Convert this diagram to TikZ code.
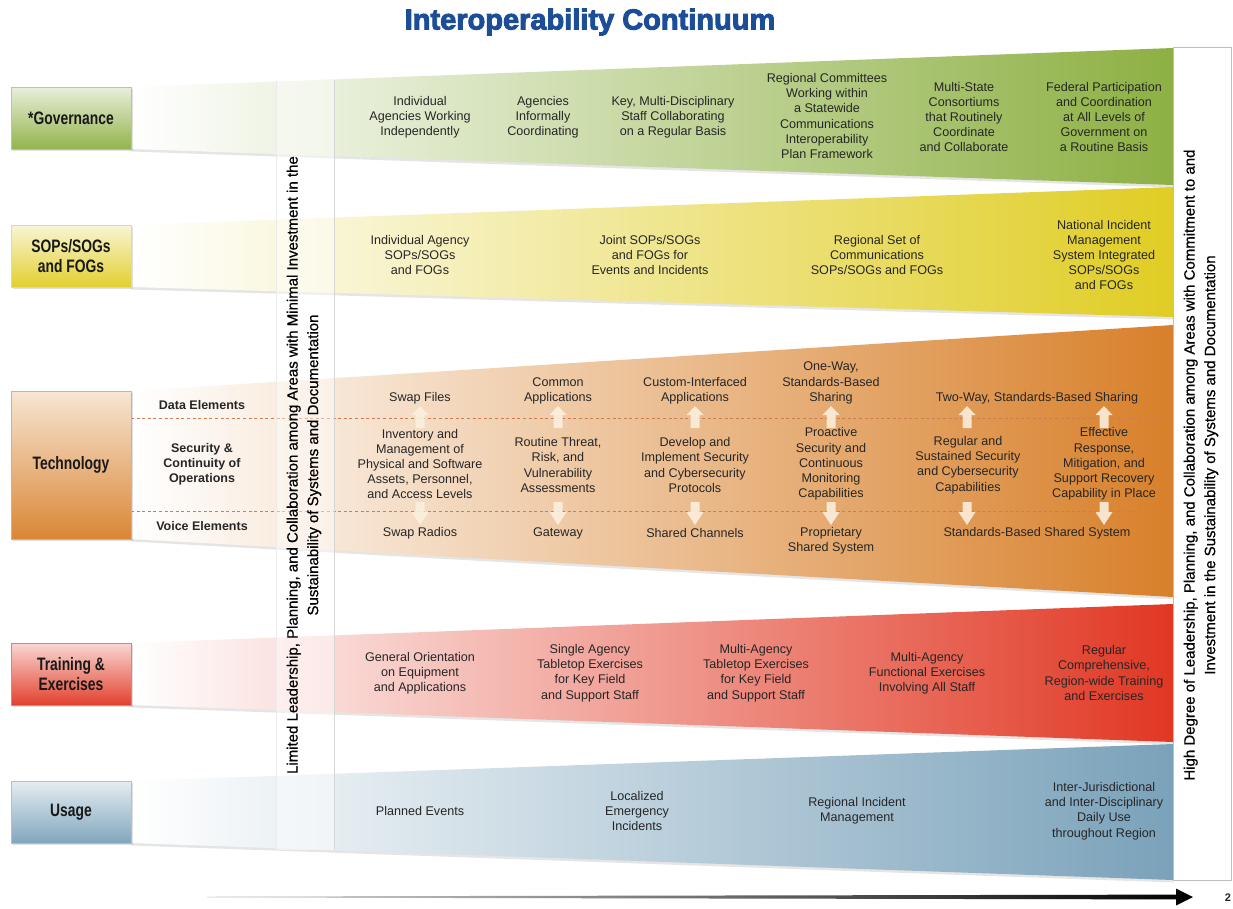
\documentclass[tikz,border=0pt]{standalone}
\usepackage{fontspec}
\setmainfont{Liberation Sans}
\newfontfamily\titlefont{Liberation Sans Bold}[FakeBold=3.2]
\newfontfamily\labelfont{Liberation Sans Bold}[FakeStretch=0.77]
\newfontfamily\sidefont{Liberation Sans}[FakeBold=0.6]
\usetikzlibrary{shadows}

\definecolor{govC}{RGB}{141,176,67}
\definecolor{sopC}{RGB}{224,205,36}
\definecolor{techC}{RGB}{216,128,42}
\definecolor{trainC}{RGB}{225,55,35}
\definecolor{trainM}{RGB}{240,152,112}
\definecolor{useC}{RGB}{122,162,186}
\definecolor{txt}{RGB}{38,38,38}
\definecolor{titleblue}{RGB}{28,78,152}
\definecolor{dashC}{RGB}{205,125,80}
\definecolor{arrowC}{RGB}{253,240,224}

\tikzset{
  band/.style={drop shadow={opacity=0.2,shadow xshift=0.5pt,shadow yshift=-2.5pt}},
  lblbox/.style={draw=#1!65, line width=0.8pt, top color=#1!20, bottom color=#1!95,
    minimum width=120pt, inner sep=0pt, align=center, text=black!90,
    font=\labelfont\fontsize{18}{20}\selectfont,
    drop shadow={opacity=0.25,shadow xshift=1.5pt,shadow yshift=-1.5pt}},
  bt/.style={font=\fontsize{12.6}{15.2}\selectfont, align=center, text=txt, inner sep=0pt},
  sublbl/.style={font=\bfseries\fontsize{12.5}{15.2}\selectfont, align=center, text=txt, inner sep=0pt},
  sidetext/.style={rotate=90, font=\sidefont\fontsize{15}{20.5}\selectfont, align=center, text=black, inner sep=0pt},
  dashline/.style={draw=dashC, line width=0.9pt, dash pattern=on 3pt off 2.6pt},
  arrowfill/.style={fill=arrowC, fill opacity=0.88},
  uparrow/.pic={\fill[arrowfill] (-4.5,22) -- (-4.5,9) -- (-8.5,9) -- (0,0) -- (8.5,9) -- (4.5,9) -- (4.5,22) -- cycle;},
  downarrow/.pic={\fill[arrowfill] (-4.5,-23) -- (-4.5,-13) -- (-8.5,-13) -- (0,0) -- (8.5,-13) -- (4.5,-13) -- (4.5,-23) -- cycle;}
}

\begin{document}
\begin{tikzpicture}[x=1pt,y=-1pt]
% canvas
\fill[white] (0,0) rectangle (1233,908);
\useasboundingbox (0,0) rectangle (1233,908);

% widening bands
\shade[band, left color=white, right color=govC]
  (131,87) -- (1173,48) -- (1173,185) -- (131,149) -- cycle;
\shade[band, left color=white, right color=sopC]
  (131,225) -- (1173,187) -- (1173,317) -- (131,287) -- cycle;
\shade[band, left color=white, right color=techC]
  (131,391) -- (1173,325) -- (1173,597) -- (131,539) -- cycle;
\shade[band, left color=white, middle color=trainM, right color=trainC]
  (131,643) -- (1173,604) -- (1173,742) -- (131,705) -- cycle;
\shade[band, left color=white, right color=useC]
  (131,781) -- (1173,744) -- (1173,880) -- (131,843) -- cycle;

% technology sub-rows
\coordinate (dA1) at (131,418);  \coordinate (dA2) at (1173,418);
\coordinate (dB1) at (131,511);  \coordinate (dB2) at (1173,511);
\draw[dashline] (dA1) -- (dA2);
\draw[dashline] (dB1) -- (dB2);

% up / down block arrows
\foreach \x in {420,558,695,831,967,1104} {
  \pic at (\x,406) {uparrow};
  \pic at (\x,525) {downarrow};
}

% pale vertical strip
\fill[white, fill opacity=0.45] (276,80) rectangle (334,850);
\draw[black!8, line width=0.6pt] (276,80) -- (276,850);
\draw[black!16, line width=0.8pt] (334.5,80) -- (334.5,850);

% right-hand panel
\draw[black!25, line width=0.6pt, fill=white,
  drop shadow={opacity=0.2,shadow xshift=1pt,shadow yshift=-1pt}] (1173,47) rectangle (1231,880);

% row headers
\node[lblbox=govC, minimum height=62pt] (gov) at (71,118) {*Governance};
\node[lblbox=sopC, minimum height=62pt] (sop) at (71,256) {SOPs/SOGs\\and FOGs};
\node[lblbox=techC, minimum height=148pt] (tech) at (71,465) {Technology};
\node[lblbox=trainC, minimum height=62pt] (train) at (71,674) {Training \&\\Exercises};
\node[lblbox=useC, minimum height=62pt] (use) at (71,812) {Usage};

% technology sub-row labels
\node[sublbl] (dataL) at (202,405) {Data Elements};
\node[sublbl] (secL) at (202,464) {Security \&\\Continuity of\\Operations};
\node[sublbl] (voiceL) at (202,526) {Voice Elements};

% governance
\node[bt] (g1) at (420,117) {Individual\\Agencies Working\\Independently};
\node[bt] (g2) at (543,117) {Agencies\\Informally\\Coordinating};
\node[bt] (g3) at (673,117) {Key, Multi-Disciplinary\\Staff Collaborating\\on a Regular Basis};
\node[bt] (g4) at (827,116) {Regional Committees\\Working within\\a Statewide\\Communications\\Interoperability\\Plan Framework};
\node[bt] (g5) at (964,117) {Multi-State\\Consortiums\\that Routinely\\Coordinate\\and Collaborate};
\node[bt] (g6) at (1104,117) {Federal Participation\\and Coordination\\at All Levels of\\Government on\\a Routine Basis};

% SOPs/SOGs
\node[bt] (s1) at (420,255) {Individual Agency\\SOPs/SOGs\\and FOGs};
\node[bt] (s2) at (650,255) {Joint SOPs/SOGs\\and FOGs for\\Events and Incidents};
\node[bt] (s3) at (877,255) {Regional Set of\\Communications\\SOPs/SOGs and FOGs};
\node[bt] (s4) at (1104,255) {National Incident\\Management\\System Integrated\\SOPs/SOGs\\and FOGs};

% technology: data elements
\node[bt] (d1) at (420,398) {Swap Files};
\node[bt] (d2) at (558,391) {Common\\Applications};
\node[bt] (d3) at (695,391) {Custom-Interfaced\\Applications};
\node[bt] (d4) at (831,383) {One-Way,\\Standards-Based\\Sharing};
\node[bt] (d5) at (1037,398) {Two-Way, Standards-Based Sharing};

% technology: security & continuity
\node[bt] (c1) at (420,464) {Inventory and\\Management of\\Physical and Software\\Assets, Personnel,\\and Access Levels};
\node[bt] (c2) at (558,465) {Routine Threat,\\Risk, and\\Vulnerability\\Assessments};
\node[bt] (c3) at (695,465) {Develop and\\Implement Security\\and Cybersecurity\\Protocols};
\node[bt] (c4) at (831,464) {Proactive\\Security and\\Continuous\\Monitoring\\Capabilities};
\node[bt] (c5) at (968,465) {Regular and\\Sustained Security\\and Cybersecurity\\Capabilities};
\node[bt] (c6) at (1104,464) {Effective\\Response,\\Mitigation, and\\Support Recovery\\Capability in Place};

% technology: voice elements
\node[bt] (v1) at (420,533) {Swap Radios};
\node[bt] (v2) at (558,533) {Gateway};
\node[bt] (v3) at (695,533) {Shared Channels};
\node[bt] (v4) at (831,541) {Proprietary\\Shared System};
\node[bt] (v5) at (1037,533) {Standards-Based Shared System};

% training & exercises
\node[bt] (t1) at (420,673) {General Orientation\\on Equipment\\and Applications};
\node[bt] (t2) at (590,673) {Single Agency\\Tabletop Exercises\\for Key Field\\and Support Staff};
\node[bt] (t3) at (756,673) {Multi-Agency\\Tabletop Exercises\\for Key Field\\and Support Staff};
\node[bt] (t4) at (927,673) {Multi-Agency\\Functional Exercises\\Involving All Staff};
\node[bt] (t5) at (1104,673) {Regular\\Comprehensive,\\Region-wide Training\\and Exercises};

% usage
\node[bt] (u1) at (420,811) {Planned Events};
\node[bt] (u2) at (637,811) {Localized\\Emergency\\Incidents};
\node[bt] (u3) at (857,811) {Regional Incident\\Management};
\node[bt] (u4) at (1104,811) {Inter-Jurisdictional\\and Inter-Disciplinary\\Daily Use\\throughout Region};

% side captions
\node[sidetext] (lowend) at (304,465) {Limited Leadership, Planning, and Collaboration among Areas with Minimal Investment in the\\Sustainability of Systems and Documentation};
\node[sidetext] (highend) at (1201,465) {High Degree of Leadership, Planning, and Collaboration among Areas with Commitment to and\\Investment in the Sustainability of Systems and Documentation};

% continuum axis
\coordinate (axisL) at (207,897);
\coordinate (axisR) at (1193,897);
\shade[left color=black!12, middle color=black!82, right color=black]
  (axisL) ++(0,-0.5) -- (1176,894.6) -- (1176,888.5) -- (axisR) -- (1176,905.5) -- (1176,899.4) -- (207,897.5) -- cycle;
\node[font=\bfseries\fontsize{11}{12}\selectfont, text=black!85] (pagenum) at (1228,898) {2};

% title
\node[font=\titlefont\fontsize{29}{30}\selectfont, text=titleblue] (title) at (590,22) {Interoperability Continuum};
\end{tikzpicture}
\end{document}
